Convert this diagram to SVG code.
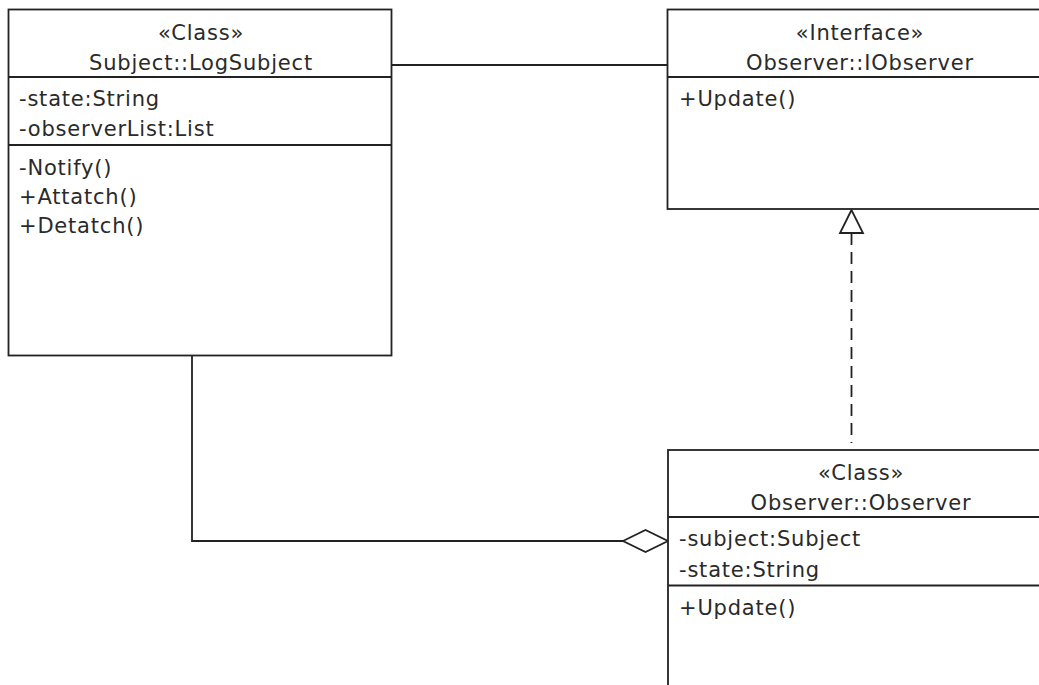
<svg xmlns="http://www.w3.org/2000/svg" width="1039" height="685" viewBox="0 0 1039 685">
<style>
.box{fill:#fff;stroke:#222;stroke-width:1.8}
.div{stroke:#222;stroke-width:1.8}
.t{font-family:"DejaVu Sans",sans-serif;font-size:21px;letter-spacing:0.8px;fill:#2a2a2a}
.c{text-anchor:middle}
.conn{fill:none;stroke:#222;stroke-width:1.8}
</style>
<rect width="1039" height="685" fill="#fff"/>
<g id="connectors">
<line class="conn" x1="391.5" y1="65" x2="667.5" y2="65"/>
<polyline class="conn" points="192,355.5 192,541 623,541"/>
<polygon class="conn" points="623,541 645.5,530 668,541 645.5,552" fill="#fff"/>
<line class="conn" x1="851.5" y1="233" x2="851.5" y2="443" stroke-dasharray="12,7"/>
<polygon class="conn" points="851.5,210 840,233 863,233" fill="#fff"/>
</g>
<g id="LogSubject">
<rect class="box" x="8.5" y="9.5" width="383" height="346"/>
<line class="div" x1="8.5" y1="77" x2="391.5" y2="77"/>
<line class="div" x1="8.5" y1="145" x2="391.5" y2="145"/>
<text class="t c" x="201" y="40">«Class»</text>
<text class="t c" x="201" y="70">Subject::LogSubject</text>
<text class="t" x="19" y="106">-state:String</text>
<text class="t" x="19" y="136">-observerList:List</text>
<text class="t" x="19" y="175">-Notify()</text>
<text class="t" x="19" y="204">+Attatch()</text>
<text class="t" x="19" y="233">+Detatch()</text>
</g>
<g id="IObserver">
<rect class="box" x="667.5" y="9.5" width="383" height="199.5"/>
<line class="div" x1="667.5" y1="77" x2="1050" y2="77"/>
<text class="t c" x="860" y="40">«Interface»</text>
<text class="t c" x="860" y="70">Observer::IObserver</text>
<text class="t" x="679" y="106">+Update()</text>
</g>
<g id="Observer">
<rect class="box" x="668" y="450" width="383" height="260"/>
<line class="div" x1="668" y1="517" x2="1050" y2="517"/>
<line class="div" x1="668" y1="585.5" x2="1050" y2="585.5"/>
<text class="t c" x="861" y="480">«Class»</text>
<text class="t c" x="861" y="510">Observer::Observer</text>
<text class="t" x="679" y="546">-subject:Subject</text>
<text class="t" x="679" y="577">-state:String</text>
<text class="t" x="679" y="615">+Update()</text>
</g>
</svg>
